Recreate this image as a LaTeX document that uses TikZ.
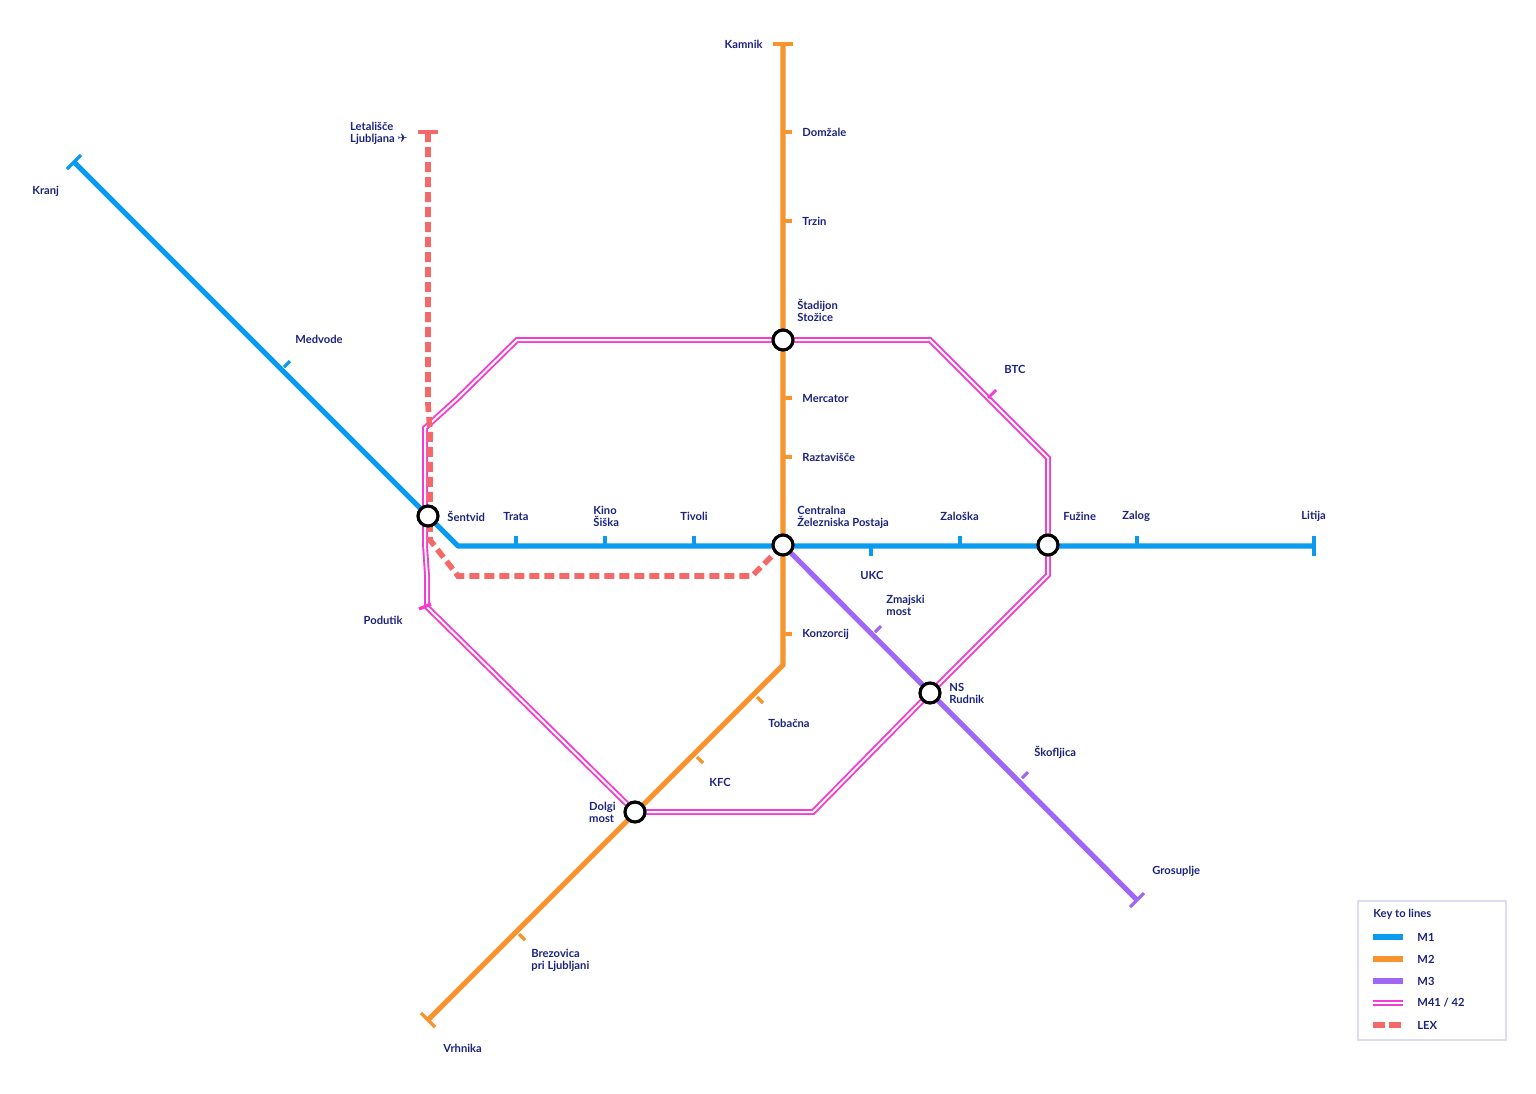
\documentclass[tikz,border=0pt]{standalone}
\usepackage{fontspec}
\setmainfont{Lato}
\newfontfamily\symf{DejaVu Sans}
\begin{document}
\begin{tikzpicture}[x=0.5pt,y=-0.5pt,
  lbl/.style={font=\bfseries\fontsize{5.6}{6}\selectfont,text=navy,align=left,inner sep=0pt},
  mone/.style={draw=mblue,line width=2.6pt},
  mtwo/.style={draw=morange,line width=2.6pt},
  mthree/.style={draw=mpurple,line width=2.6pt},
  lexl/.style={draw=mred,line width=2.8pt,dash pattern=on 5pt off 2.5pt},
  stn/.style={circle,draw=black,fill=white,line width=1.6pt,minimum size=10pt,inner sep=0pt},
  tk/.style={line width=1.6pt}]
\definecolor{navy}{HTML}{1A237E}
\definecolor{mblue}{HTML}{0A9BF0}
\definecolor{morange}{HTML}{F7942E}
\definecolor{mpurple}{HTML}{A066F5}
\definecolor{mpink}{HTML}{F23CD2}
\definecolor{mred}{HTML}{F56868}
\definecolor{keyframe}{HTML}{DCDCF5}
\useasboundingbox (0,0) rectangle (1536,1093);
% coordinates
\coordinate (sen) at (428,516);
\coordinate (cen) at (783,545);
\coordinate (fuz) at (1048,545);
\coordinate (sto) at (783,340);
\coordinate (nsr) at (930,693);
\coordinate (dol) at (635,812);
% pink M41/42
\def\pinkpath{(425,545) -- (425,428) -- (458,398) -- (517,340) -- (930,340) -- (1048,458) -- (1048,575) -- (930,693) -- (813,812) -- (635,812) -- (427,607) -- (427,575) -- (425,545)}
\draw[mpink,line width=2.9pt,line join=miter] \pinkpath;
\draw[white,line width=1pt,line join=miter] \pinkpath;
\draw[mpink,line width=1.4pt] (988,398) -- (996,390);
\draw[mpink,tk] (419,609) -- (431,604);
% LEX
\draw[lexl] (428,132) -- (428,405) -- (430,430) -- (430,540) -- (458,576) -- (752,576) -- (cen);
\draw[mred,tk] (418,132) -- (438,132);
% M1
\draw[mone,line join=round] (74,162) -- (sen) -- (458,546) -- (1314,546);
\foreach \x in {516,605,694,960,1137} \draw[mblue,tk] (\x,546) -- (\x,536);
\draw[mblue,tk] (871,546) -- (871,556);
\draw[mblue,tk] (284,367) -- (290,361);
\draw[mblue,tk] (67,169) -- (81,155);
\draw[mblue,tk] (1314,536) -- (1314,556);
% M3
\draw[mthree] (cen) -- (1137,900);
\draw[mpurple,tk] (875,632) -- (881,626);
\draw[mpurple,tk] (1022,778) -- (1028,772);
\draw[mpurple,tk] (1130,907) -- (1144,893);
% M2
\draw[mtwo,line join=round] (783,44) -- (783,665) -- (428,1020);
\draw[morange,tk] (773,44) -- (793,44);
\foreach \y in {132,221,398,457,634} \draw[morange,tk] (783,\y) -- (792,\y);
\draw[morange,tk] (757,697) -- (763,703);
\draw[morange,tk] (697,757) -- (703,763);
\draw[morange,tk] (519,934) -- (525,940);
\draw[morange,tk] (421,1013) -- (435,1027);
% stations
\foreach \c in {sen,cen,fuz,sto,nsr,dol} \node[stn] (s\c) at (\c) {};
% labels
\node[lbl,anchor=east] at (763,44) {Kamnik};
\node[lbl,anchor=west] at (802,132) {Domžale};
\node[lbl,anchor=west] at (802,221) {Trzin};
\node[lbl,anchor=west] at (797,310) {Štadijon\\Stožice};
\node[lbl,anchor=west] at (802,398) {Mercator};
\node[lbl,anchor=west] at (802,457) {Raztavišče};
\node[lbl,anchor=west] at (797,517) {Centralna\\Železniska Postaja};
\node[lbl,anchor=west] at (802,634) {Konzorcij};
\node[lbl,anchor=west] at (768,723) {Tobačna};
\node[lbl,anchor=west] at (709,782) {KFC};
\node[lbl,anchor=west] at (531,960) {Brezovica\\pri Ljubljani};
\node[lbl,anchor=west] at (443,1048) {Vrhnika};
\node[lbl,anchor=east] at (616,812) {Dolgi\\most};
\node[lbl,anchor=west] at (32,191) {Kranj};
\node[lbl,anchor=west] at (295,339) {Medvode};
\node[lbl,anchor=east] at (408,133) {Letališče\\Ljubljana {\symf\fontsize{6}{6}\selectfont ✈}};
\node[lbl,anchor=west] at (447,516) {Šentvid};
\node[lbl,anchor=west] at (503,516) {Trata};
\node[lbl,anchor=west] at (593,516) {Kino\\Šiška};
\node[lbl,anchor=west] at (680,516) {Tivoli};
\node[lbl,anchor=west] at (860,575) {UKC};
\node[lbl,anchor=west] at (940,516) {Zaloška};
\node[lbl,anchor=west] at (1063,516) {Fužine};
\node[lbl,anchor=west] at (1122,516) {Zalog};
\node[lbl,anchor=west] at (1301,516) {Litija};
\node[lbl,anchor=west] at (1004,369) {BTC};
\node[lbl,anchor=east] at (403,620) {Podutik};
\node[lbl,anchor=west] at (886,605) {Zmajski\\most};
\node[lbl,anchor=west] at (949,693) {NS\\Rudnik};
\node[lbl,anchor=west] at (1034,752) {Škofljica};
\node[lbl,anchor=west] at (1152,871) {Grosuplje};
% key
\draw[keyframe,line width=0.8pt] (1358,901) rectangle (1506,1040);
\node[lbl,anchor=west] at (1373,914) {Key to lines};
\draw[mone] (1373,937) -- (1403,937);
\draw[mtwo] (1373,959) -- (1403,959);
\draw[mthree] (1373,981) -- (1403,981);
\draw[mpink,line width=2.9pt] (1373,1003) -- (1403,1003);
\draw[white,line width=1pt] (1373,1003) -- (1403,1003);
\draw[mred,line width=2.8pt] (1373,1025) -- (1385,1025) (1389,1025) -- (1401,1025);
\node[lbl,anchor=west] at (1417,937) {M1};
\node[lbl,anchor=west] at (1417,959) {M2};
\node[lbl,anchor=west] at (1417,981) {M3};
\node[lbl,anchor=west] at (1417,1003) {M41 / 42};
\node[lbl,anchor=west] at (1417,1025) {LEX};
\end{tikzpicture}
\end{document}
